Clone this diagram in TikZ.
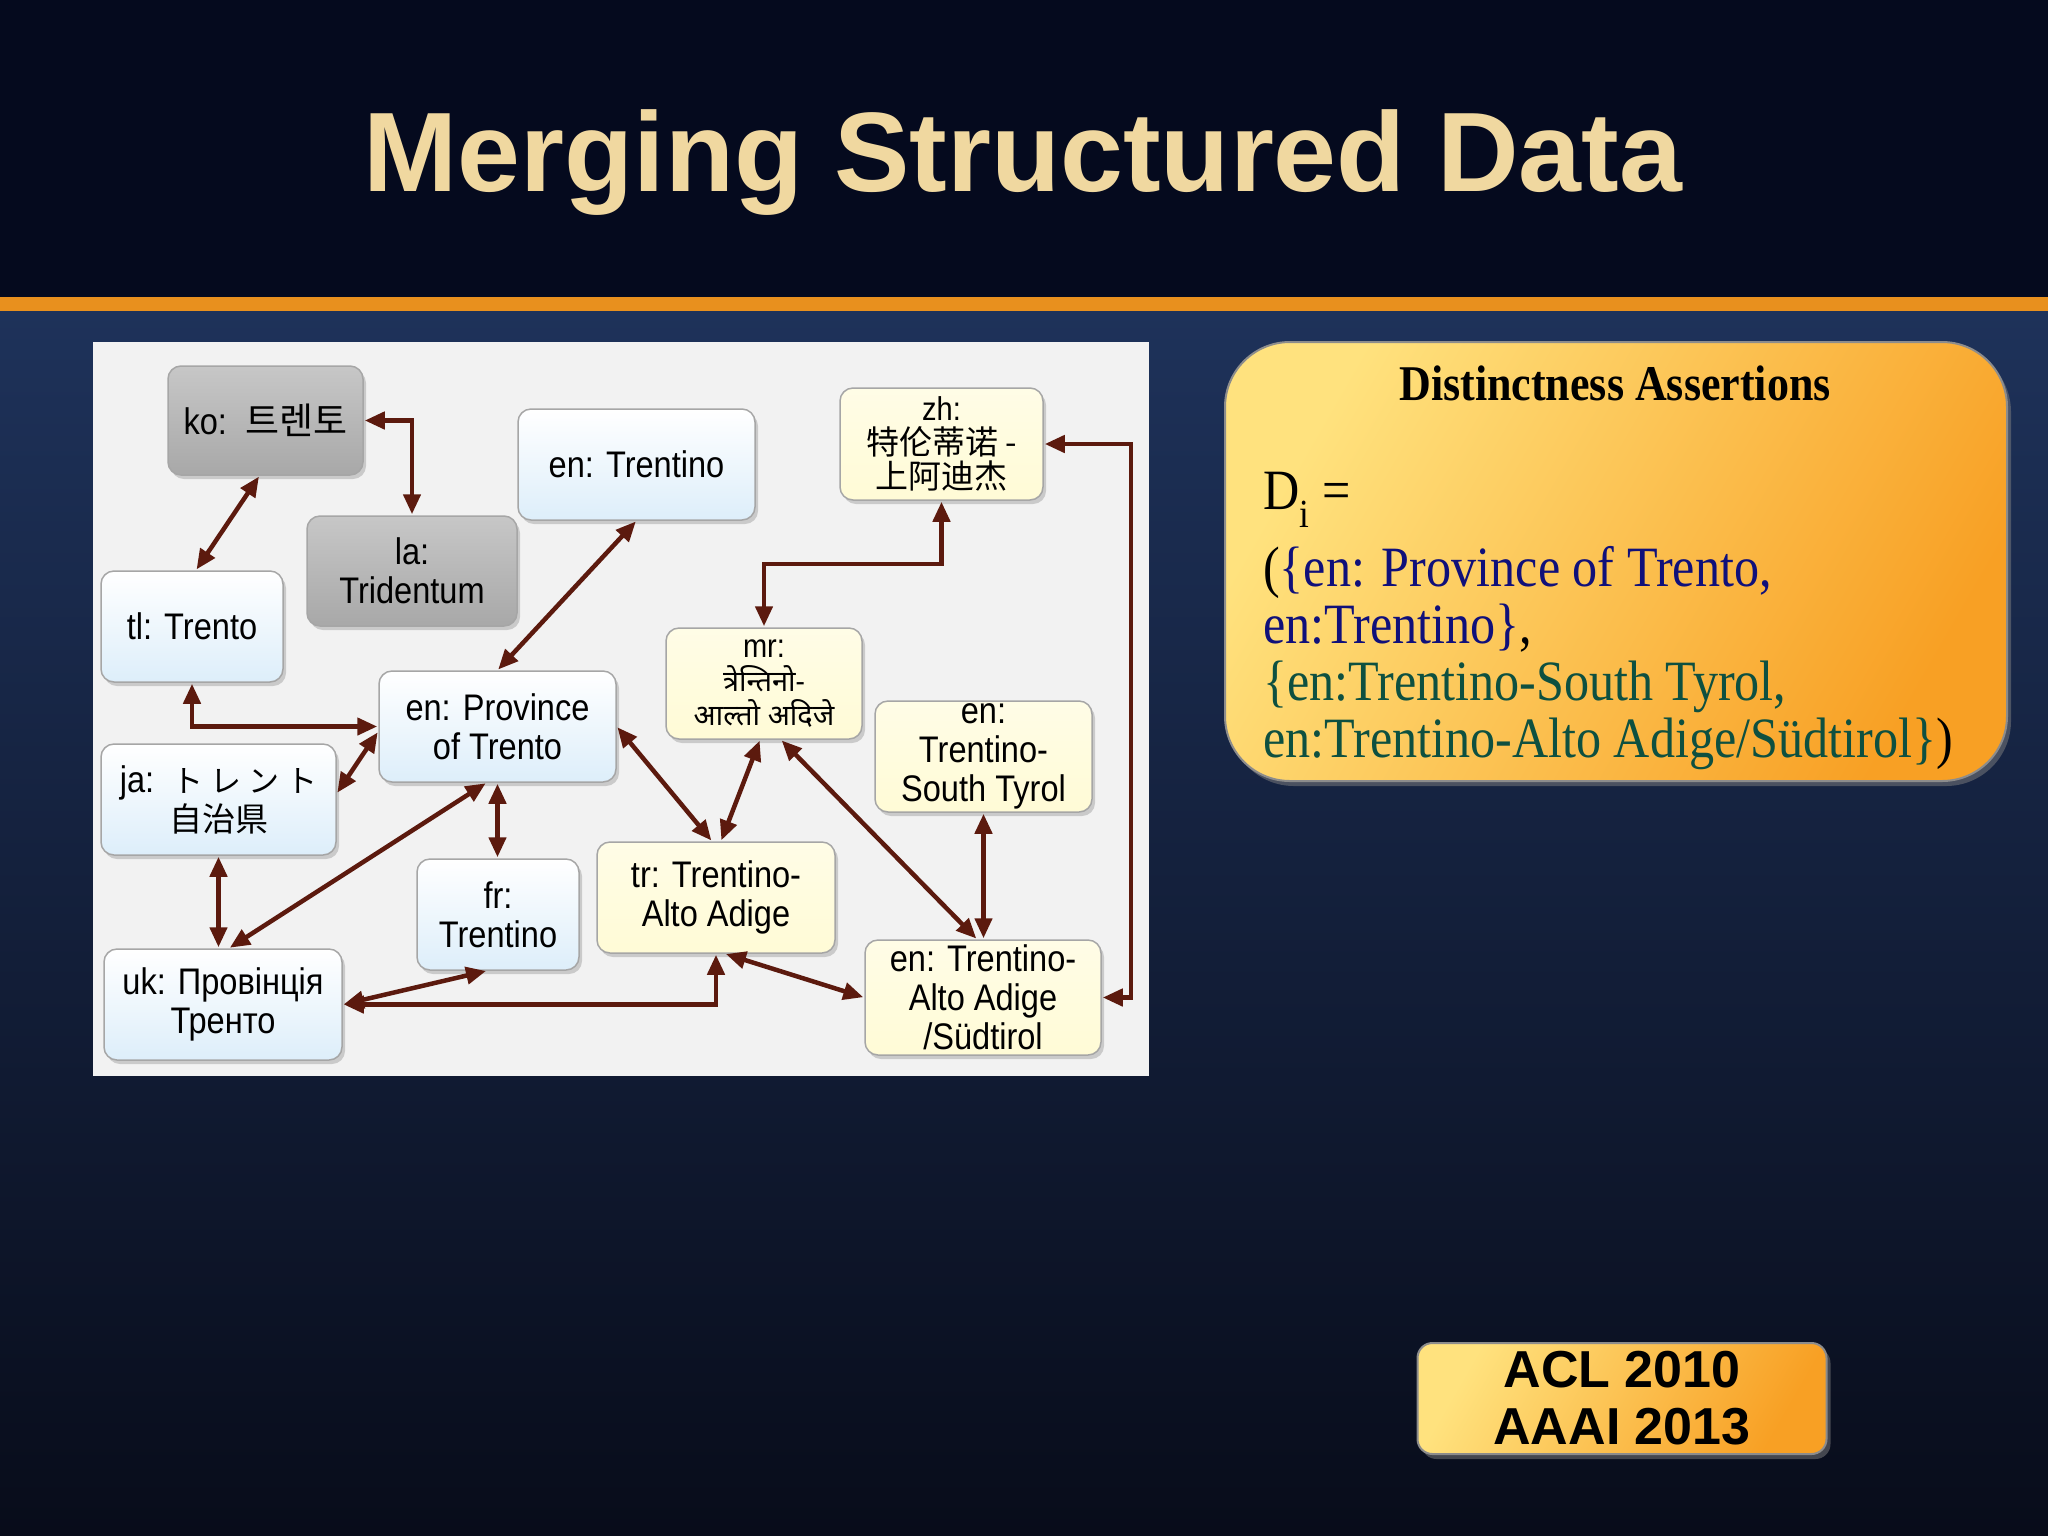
\documentclass[tikz,border=0pt]{standalone}
\usepackage{fontspec}
\setmainfont{Liberation Serif}
\newfontfamily\dsans[FakeStretch=0.88]{Liberation Sans}
\newfontfamily\tsans{Liberation Sans}
\newfontfamily\cserif[FakeStretch=0.88]{Liberation Serif}
\newfontfamily\kofont{Noto Sans CJK KR}
\newfontfamily\jafont{Noto Sans CJK JP}
\newfontfamily\zhfont{Noto Sans CJK SC}
\newfontfamily\defont[Script=Devanagari]{Noto Sans}
\usetikzlibrary{arrows.meta,shadows,calc}
\definecolor{arr}{HTML}{5C1A0E}
\definecolor{titlec}{HTML}{F0D8A0}
\definecolor{bluef}{HTML}{DDEEFA}
\definecolor{yelf}{HTML}{FFFBD6}
\definecolor{grayf}{HTML}{A8A8A8}
\definecolor{bluet}{HTML}{10107A}
\definecolor{greent}{HTML}{0E5040}
\definecolor{headc}{HTML}{050A1E}
\definecolor{bodyt}{HTML}{1E325A}
\definecolor{bodyb}{HTML}{080C1A}
\definecolor{bandc}{HTML}{E8901E}
\definecolor{orl}{HTML}{FFE27E}
\definecolor{orr}{HTML}{F8A024}
\tikzset{
  gbox/.style={rounded corners=13pt, draw=black!35, line width=1.5pt, align=center, inner sep=2pt,
    font=\dsans\fontsize{37}{39}\selectfont, drop shadow={shadow xshift=3pt, shadow yshift=-4pt, opacity=.35}},
  bluebox/.style={gbox, top color=white, bottom color=bluef},
  yelbox/.style={gbox, top color=white!40!yelf, bottom color=yelf},
  graybox/.style={gbox, top color=black!22, bottom color=grayf},
  link/.style={arr, line width=4.5pt, {Triangle[length=20pt,width=17pt]}-{Triangle[length=20pt,width=17pt]}, shorten <=1pt, shorten >=1pt},
  orbox/.style={rounded corners=#1, draw=black!45, line width=2pt, left color=orl, right color=orr, shading angle=60,
     drop shadow={shadow xshift=4pt, shadow yshift=-5pt, opacity=.5}},
  cjk/.style={font=\fontsize{31}{34}\selectfont},
}
\begin{document}
\begin{tikzpicture}[x=1pt,y=-1pt]
\useasboundingbox (0,0) rectangle (2048,1535);
% background
\fill[headc] (0,0) rectangle (2048,300);
\shade[top color=bodyt, bottom color=bodyb] (0,311) rectangle (2048,1535);
\fill[bandc] (0,297) rectangle (2048,311);
\node[font=\tsans\bfseries\fontsize{113}{120}\selectfont, text=titlec] (title) at (1023,163) {Merging Structured Data};
% diagram panel
\fill[black!5] (93,342) rectangle (1149,1076);
\node[graybox, minimum width=195pt, minimum height=109pt] (ko) at (265.5,420.5) {ko:\, {\kofont 트렌토}};
\node[graybox, minimum width=210pt, minimum height=110pt] (la) at (412,571) {la:\\Tridentum};
\node[bluebox, minimum width=237pt, minimum height=111pt] (entr) at (636.5,464.5) {en: Trentino};
\node[yelbox, minimum width=203pt, minimum height=112pt, font=\dsans\fontsize{33}{34}\selectfont] (zh) at (941.5,444) {zh:\\{\zhfont 特伦蒂诺 -}\\{\zhfont 上阿迪杰}};
\node[bluebox, minimum width=182pt, minimum height=111pt] (tl) at (192,626.5) {tl: Trento};
\node[bluebox, minimum width=237pt, minimum height=111pt] (prov) at (497.5,726.5) {en: Province\\of Trento};
\node[yelbox, minimum width=196pt, minimum height=111pt, font=\dsans\fontsize{33}{34}\selectfont] (mr) at (764,683.5) {mr:\\{\defont\fontsize{29}{34}\selectfont त्रेन्तिनो-}\\{\defont\fontsize{29}{34}\selectfont आल्तो अदिजे}};
\node[yelbox, minimum width=217pt, minimum height=111pt] (st) at (983.5,756.5) {en:\\Trentino-\\South Tyrol};
\node[bluebox, minimum width=235pt, minimum height=111pt] (ja) at (218.5,799.5) {ja:\, {\jafont\fontsize{31}{34}\selectfont ト レ ン ト}\\{\jafont\fontsize{33}{36}\selectfont 自治県}};
\node[bluebox, minimum width=162pt, minimum height=111pt] (fr) at (498,914.5) {fr:\\Trentino};
\node[yelbox, minimum width=238pt, minimum height=111pt] (tr) at (716,897.5) {tr: Trentino-\\Alto Adige};
\node[bluebox, minimum width=238pt, minimum height=111pt] (uk) at (223,1004.5) {uk: Провінція\\Тренто};
\node[yelbox, minimum width=236pt, minimum height=115pt] (taa) at (983,997.5) {en: Trentino-\\Alto Adige\\/Südtirol};
\coordinate (k1) at (0,564);
\coordinate (k2) at (1131,0);
% links
\draw[link] (ko.east) -| (la.north);
\draw[link] ([xshift=-6pt]ko.south) -- ([xshift=4pt]tl.north);
\draw[link] (entr.south) -- (prov.north);
\draw[link] (tl.south) |- (prov.west);
\draw[link] ([yshift=6pt]ja.east) -- ([yshift=-5pt]prov.west);
\draw[link] (ja.south) -- (ja.south |- uk.north);
\draw[link] ([xshift=-11pt]prov.south) -- ([xshift=6pt]uk.north);
\draw[link] (prov.south) -- (prov.south |- fr.north);
\draw[link] (uk.east) -- ([xshift=-11pt]fr.south);
\draw[link] (uk.east) -| (tr.south);
\draw[link] (prov.east) -- ([xshift=-4pt]tr.north);
\draw[link] ([xshift=-4pt]mr.south) -- ([xshift=5pt]tr.north);
\draw[link] (mr.north) -- (mr.north |- k1) -| (zh.south);
\draw[link] ([xshift=17pt]mr.south) -- ([xshift=-6pt]taa.north);
\draw[link] (st.south) -- (st.south |- taa.north);
\draw[link] ([xshift=9pt]tr.south) -- (taa.west);
\draw[link] (taa.east) -- (taa.east -| k2) -- (k2 |- zh.east) -- (zh.east);
% distinctness box
\node[orbox=65pt, minimum width=782pt, minimum height=439pt] (dbox) at (1616,561.5) {};
\node[font=\cserif\bfseries\fontsize{50}{56}\selectfont] (dtitle) at (1615,383) {Distinctness Assertions};
\node[anchor=north west, align=left, inner sep=0pt, font=\cserif\fontsize{57}{57}\selectfont] (dtext) at (1263,472)
 {D\textsubscript{i} =\\[18pt]
  ({\color{bluet}\{en: Province of Trento,}\\
  {\color{bluet}en:Trentino\}},\\
  {\color{greent}\{en:Trentino-South Tyrol,}\\
  {\color{greent}en:Trentino-Alto Adige/Südtirol\}})};
% venue box
\node[orbox=15pt, minimum width=409pt, minimum height=111pt, align=center, font=\tsans\bfseries\fontsize{52}{57}\selectfont] (venue) at (1622,1398.5) {ACL 2010\\AAAI 2013};
\end{tikzpicture}
\end{document}
